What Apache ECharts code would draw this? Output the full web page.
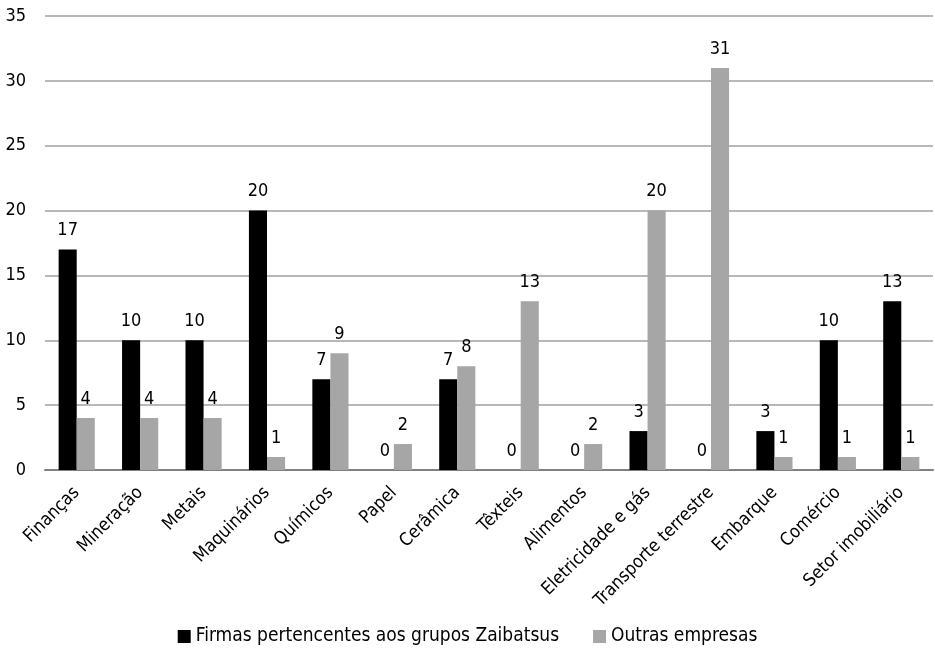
<!DOCTYPE html>
<html><head><meta charset="utf-8">
<script src="https://cdn.jsdelivr.net/npm/echarts@6/dist/echarts.min.js"></script>
<style>html,body{margin:0;padding:0;background:#fff}#c{width:935px;height:649px}</style>
</head><body><div id="c"></div>
<script>
const categories = ["Finanças","Mineração","Metais","Maquinários","Químicos","Papel","Cerâmica","Têxteis","Alimentos","Eletricidade e gás","Transporte terrestre","Embarque","Comércio","Setor imobiliário"];
const zaibatsu = [17,10,10,20,7,0,7,0,0,3,0,3,10,13];
const outras = [4,4,4,1,9,2,8,13,2,20,31,1,1,1];
const seriesNames = ["Firmas pertencentes aos grupos Zaibatsus","Outras empresas"];
const FONT = '"DejaVu Sans Condensed","Liberation Sans Narrow",sans-serif';
const chart = echarts.init(document.getElementById('c'));
const lbl = {show:true, position:'top', color:'#000', fontSize:18, fontFamily:FONT, distance:10};
chart.setOption({
  animation:false,
  textStyle:{fontFamily:FONT},
  grid:{left:45, right:2, top:16, bottom:179, containLabel:false},
  legend:{bottom:-2, left:'center', itemWidth:13, itemHeight:13, itemGap:34, icon:'rect',
    textStyle:{fontSize:19, color:'#000', fontFamily:FONT}, data:seriesNames},
  xAxis:{type:'category', data:categories,
    axisLine:{lineStyle:{color:'#808080', width:2}}, axisTick:{show:false},
    axisLabel:{rotate:45, interval:0, fontSize:18, color:'#000', fontFamily:FONT, margin:20}},
  yAxis:{type:'value', min:0, max:35, interval:5,
    axisLine:{show:false}, axisTick:{show:false},
    axisLabel:{fontSize:18, color:'#000', fontFamily:FONT, margin:19},
    splitLine:{lineStyle:{color:'#a0a0a0', width:1.5}}},
  series:[
    {name:seriesNames[0], type:'bar', data:zaibatsu, itemStyle:{color:'#000'}, barGap:'0%', barCategoryGap:'43%', label:lbl},
    {name:seriesNames[1], type:'bar', data:outras, itemStyle:{color:'#a6a6a6'}, barGap:'0%', barCategoryGap:'43%', label:lbl}
  ]
});
</script></body></html>
